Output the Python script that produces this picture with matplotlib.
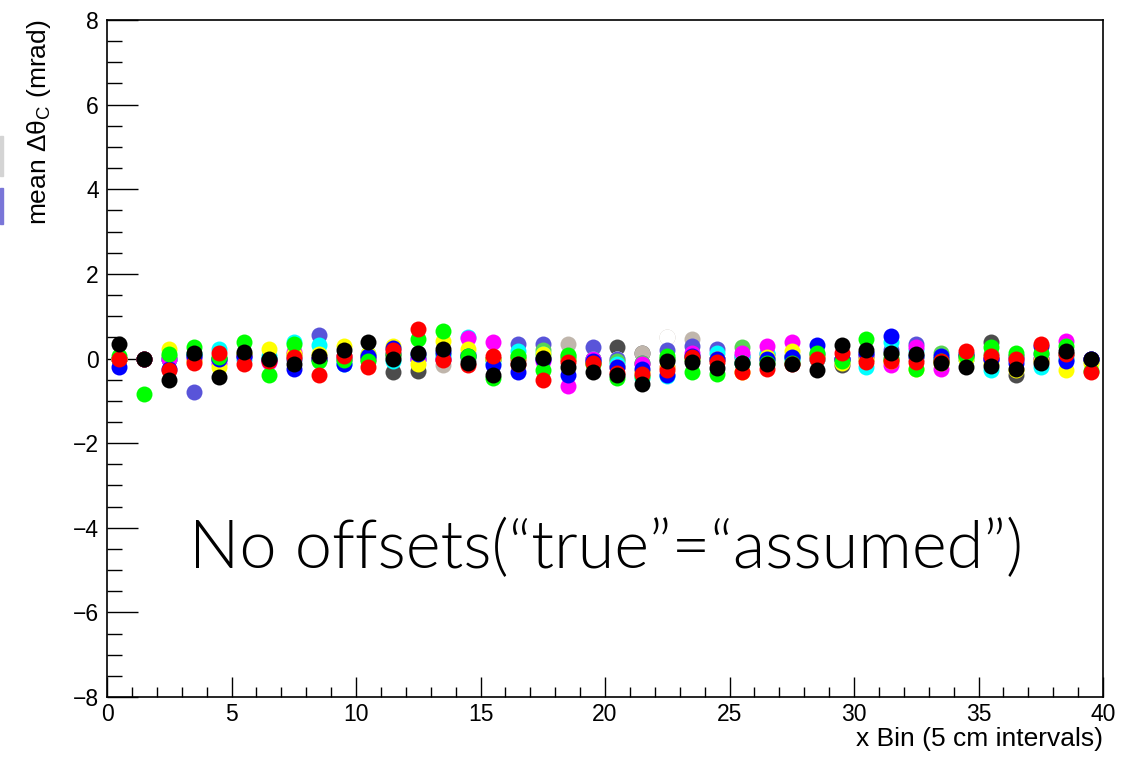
import matplotlib
matplotlib.use("Agg")
import matplotlib.pyplot as plt
from matplotlib.ticker import MultipleLocator
from matplotlib.patches import Rectangle
import numpy as np

plt.rcParams['font.family'] = ['Liberation Sans', 'DejaVu Sans']

nBins = 40
binEdges = np.arange(nBins + 1)

# mean delta theta_C (mrad) per x bin, one list per run
dgray = [0.00, 0.00, 0.00, 0.05, 0.00, 0.05, 0.00, 0.00, 0.00, 0.00,
         0.00, -0.33, -0.30, 0.00, 0.00, 0.00, 0.00, 0.00, 0.00, 0.00,
         0.26, 0.14, 0.00, 0.00, 0.00, 0.00, 0.00, 0.00, 0.00, -0.16,
         0.00, 0.00, 0.00, 0.00, 0.00, 0.38, -0.40, 0.00, 0.00, 0.00]
beige = [0.00, 0.00, 0.00, 0.00, 0.00, 0.00, 0.00, 0.00, 0.00, 0.00,
         0.00, 0.00, 0.00, -0.16, 0.00, 0.00, 0.00, 0.00, 0.35, 0.00,
         0.00, 0.12, 0.50, 0.47, 0.00, 0.00, 0.00, 0.00, 0.00, 0.00,
         0.00, 0.00, 0.00, 0.00, 0.00, 0.00, 0.00, 0.00, 0.00, 0.00]
white = [0.00, 0.00, 0.00, 0.00, 0.00, 0.00, 0.00, 0.00, 0.00, 0.00,
         0.00, 0.00, 0.00, 0.00, 0.00, 0.00, 0.00, 0.00, 0.00, 0.00,
         0.00, -0.30, 0.50, 0.00, 0.00, 0.00, 0.00, 0.00, 0.00, 0.00,
         0.00, 0.00, 0.00, 0.00, 0.00, 0.00, 0.00, 0.00, 0.00, 0.00]
purple = [0.00, 0.00, 0.00, -0.78, 0.00, 0.05, 0.00, 0.00, 0.56, 0.00,
          0.05, 0.10, 0.00, 0.00, 0.10, 0.00, 0.35, 0.35, 0.00, 0.26,
          0.00, -0.10, 0.19, 0.29, 0.23, 0.05, 0.10, 0.05, 0.10, 0.00,
          0.10, 0.20, 0.35, 0.00, 0.05, 0.00, 0.05, 0.10, 0.10, 0.00]
midGreen = [0.00, 0.00, 0.05, 0.10, 0.00, 0.10, 0.00, 0.10, 0.00, 0.05,
            0.00, 0.05, 0.05, 0.10, 0.05, 0.00, 0.05, 0.19, 0.05, 0.00,
            -0.05, -0.10, 0.00, 0.05, 0.00, 0.26, 0.00, 0.05, 0.05, 0.00,
            0.05, 0.10, 0.05, 0.14, 0.05, 0.10, 0.05, 0.00, 0.10, -0.05]
cyan = [0.00, 0.00, 0.00, 0.10, 0.23, 0.00, 0.05, 0.38, 0.31, -0.12,
        0.10, -0.05, 0.00, 0.05, 0.50, -0.10, 0.17, 0.10, 0.00, 0.00,
        -0.12, -0.45, -0.42, 0.00, 0.12, 0.05, 0.14, 0.00, 0.00, 0.00,
        -0.21, 0.40, 0.20, 0.00, 0.00, -0.28, 0.00, -0.21, 0.00, 0.00]
magenta = [0.00, 0.00, 0.00, 0.00, -0.10, 0.05, -0.08, 0.15, 0.00, 0.05,
           0.00, 0.10, 0.00, 0.00, 0.49, 0.40, 0.00, -0.05, -0.66, 0.00,
           -0.20, -0.12, -0.20, 0.14, 0.00, 0.14, 0.30, 0.38, 0.05, 0.00,
           0.05, -0.16, 0.26, -0.24, 0.05, 0.00, 0.00, 0.00, 0.42, 0.00]
yellow = [0.00, 0.00, 0.22, -0.05, -0.19, 0.10, 0.23, 0.10, 0.10, 0.30,
          0.10, 0.30, -0.13, 0.42, 0.23, 0.00, 0.00, 0.10, 0.00, -0.10,
          -0.20, -0.30, -0.20, 0.00, 0.00, -0.33, 0.03, 0.17, 0.05, -0.10,
          0.00, -0.05, -0.24, -0.10, 0.00, -0.10, -0.28, -0.05, -0.28, -0.10]
blue = [-0.21, 0.00, -0.25, 0.05, 0.00, 0.07, -0.03, -0.24, 0.00, -0.12,
        0.07, 0.25, 0.10, 0.15, 0.07, -0.16, -0.33, 0.00, -0.38, -0.05,
        -0.20, -0.25, -0.40, 0.05, 0.00, -0.10, 0.00, 0.03, 0.31, 0.00,
        0.12, 0.52, 0.05, 0.05, 0.10, 0.00, -0.10, 0.30, -0.06, 0.00]
green = [0.05, -0.83, 0.10, 0.28, 0.03, 0.40, -0.40, 0.35, -0.05, -0.03,
         -0.06, 0.10, 0.47, 0.64, 0.05, -0.47, 0.05, -0.27, 0.09, -0.12,
         -0.47, -0.42, 0.05, -0.33, -0.36, -0.10, -0.10, -0.10, 0.14, -0.05,
         0.45, 0.00, -0.24, -0.05, 0.05, 0.28, 0.14, 0.14, 0.30, -0.30]
red = [0.00, 0.00, -0.28, -0.10, 0.12, -0.13, -0.05, 0.03, -0.40, 0.05,
       -0.21, 0.19, 0.70, -0.03, -0.16, 0.07, -0.13, -0.51, -0.08, -0.10,
       -0.35, -0.36, -0.28, 0.03, -0.08, -0.33, -0.24, -0.14, 0.00, 0.12,
       -0.08, -0.05, -0.08, -0.05, 0.17, 0.05, 0.00, 0.35, 0.10, -0.33]
black = [0.35, 0.00, -0.50, 0.12, -0.44, 0.15, 0.00, -0.12, 0.07, 0.19,
         0.38, 0.00, 0.14, 0.23, -0.10, -0.40, -0.13, 0.02, -0.21, -0.33,
         -0.40, -0.60, -0.06, -0.08, -0.23, -0.10, -0.13, -0.14, -0.28, 0.33,
         0.19, 0.12, 0.10, -0.10, -0.21, -0.17, -0.24, -0.10, 0.17, 0.00]

# drawn back to front, ROOT colours 12 .. 1
runs = [(dgray, '#4c4c4c'), (beige, '#c0b6ac'), (white, '#ffffff'),
        (purple, '#5954d9'), (midGreen, '#59d454'), (cyan, '#00ffff'),
        (magenta, '#ff00ff'), (yellow, '#ffff00'), (blue, '#0000ff'),
        (green, '#00ff00'), (red, '#ff0000'), (black, '#000000')]

fig = plt.figure(figsize=(11.45, 7.57), dpi=100)
ax = fig.add_axes([107 / 1145, 60 / 757, 996 / 1145, 677 / 757])

binCenters = 0.5 * (binEdges[:-1] + binEdges[1:])
for values, colour in runs:
    ax.plot(binCenters, values, 'o', color=colour, markersize=11.5,
            markeredgewidth=0, clip_on=True)

ax.set_xlim(0, 40)
ax.set_ylim(-8, 8)

ax.xaxis.set_major_locator(MultipleLocator(5))
ax.xaxis.set_minor_locator(MultipleLocator(1))
ax.yaxis.set_major_locator(MultipleLocator(2))
ax.yaxis.set_minor_locator(MultipleLocator(0.5))
ax.tick_params(axis='x', which='major', direction='in', length=14.5, width=1, pad=4, labelsize=16.5)
ax.tick_params(axis='x', which='minor', direction='in', length=7, width=1)
ax.tick_params(axis='y', which='major', direction='in', length=22, width=1, pad=6, labelsize=16.5)
ax.tick_params(axis='y', which='minor', direction='in', length=11, width=1)
ax.tick_params(top=False, right=False, which='both')
for spine in ax.spines.values():
    spine.set_linewidth(1.2)

ax.set_xlabel('x Bin (5 cm intervals)', fontsize=19, loc='right', labelpad=1)
ax.set_ylabel('mean \u0394\u03b8$_\\mathregular{C}$ (mrad)', fontsize=19,
              loc='top', labelpad=14)

ax.text(0.501, 0.217, 'No offsets(\u201ctrue\u201d=\u201cassumed\u201d)',
        transform=ax.transAxes, ha='center', va='center', fontsize=48,
        family=['Lato', 'Liberation Sans'], fontweight=300)

# clipped legend boxes at the left edge
fig.patches.append(Rectangle((0, (757 - 176) / 757), 3 / 1145, 40 / 757,
                             transform=fig.transFigure, color='#d4d4d4'))
fig.patches.append(Rectangle((0, (757 - 224) / 757), 3 / 1145, 36 / 757,
                             transform=fig.transFigure, color='#7a76d8'))

fig.savefig('out.png', dpi=100)
